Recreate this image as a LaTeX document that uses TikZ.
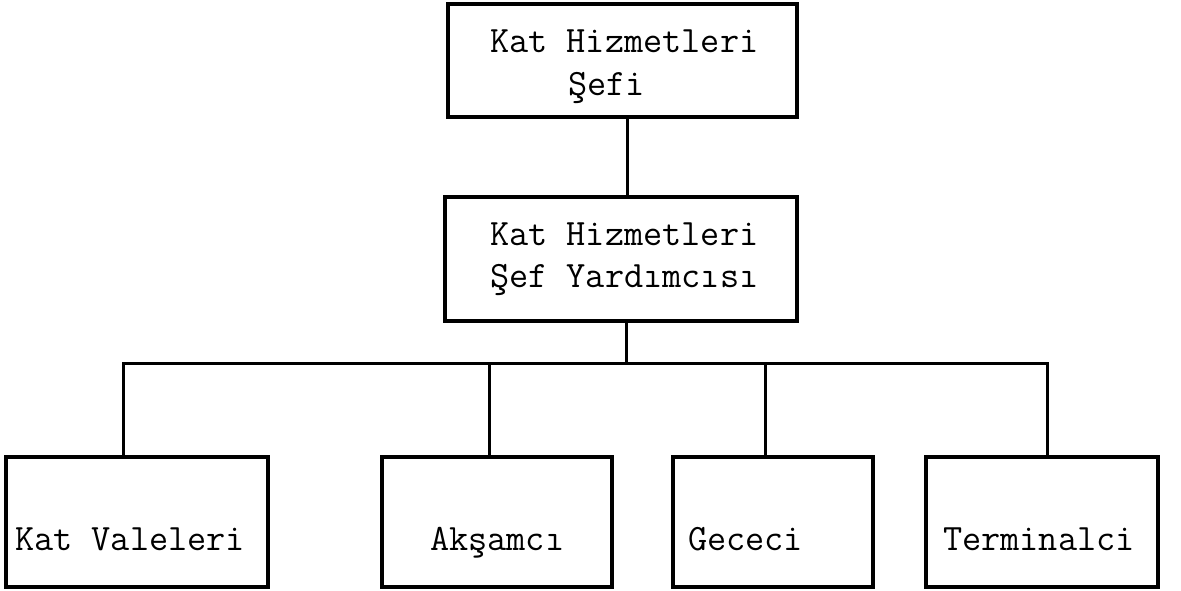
\documentclass[tikz,border=0pt]{standalone}
\usepackage{fontspec}
\begin{document}
\begin{tikzpicture}[x=1pt,y=-1pt,
  box/.style={draw, line width=3.4pt, rectangle, inner sep=0pt, minimum width=#1},
  lowbox/.style={box=#1, minimum height=130pt},
  label/.style={anchor=base west, inner sep=0pt, font=\ttfamily\fontsize{37.2}{44}\selectfont},
  link/.style={line width=3pt}]
\useasboundingbox (0,0) rectangle (1181,590);

% top of the chart
\node[box=349pt, minimum height=113pt] (chief) at (622.5,60.5) {};
\node[label] (chiefA) at (490,52) {Kat Hizmetleri};
\node[label] (chiefB) at (568,95) {Şefi};

\node[box=352pt, minimum height=124pt] (deputy) at (621,259) {};
\node[label] (deputyA) at (490,245) {Kat Hizmetleri};
\node[label] (deputyB) at (490,287) {Şef Yardımcısı};

% bottom row
\node[lowbox=262pt] (valet) at (137,522) {};
\node[label] (valetT) at (15,550) {Kat Valeleri};
\node[lowbox=230pt] (evening) at (497,522) {};
\node[label] (eveningT) at (430,550) {Akşamcı};
\node[lowbox=200pt] (night) at (773,522) {};
\node[label] (nightT) at (688,550) {Gececi};
\node[lowbox=232pt] (terminal) at (1042,522) {};
\node[label] (terminalT) at (943,550) {Terminalci};

% connectors
\coordinate (busL) at (123,363);
\coordinate (busR) at (1047,363);
\coordinate (busM) at (626,363);
\draw[link] (chief.south -| 627,0) -- (deputy.north -| 627,0);
\draw[link] (deputy.south -| busM) -- (busM);
\draw[link, line cap=rect] (busL) -- (busR);
\draw[link] (busL) -- (valet.north -| busL);
\draw[link] (489,363) -- (evening.north -| 489,0);
\draw[link] (765,363) -- (night.north -| 765,0);
\draw[link] (busR) -- (terminal.north -| busR);
\end{tikzpicture}
\end{document}
